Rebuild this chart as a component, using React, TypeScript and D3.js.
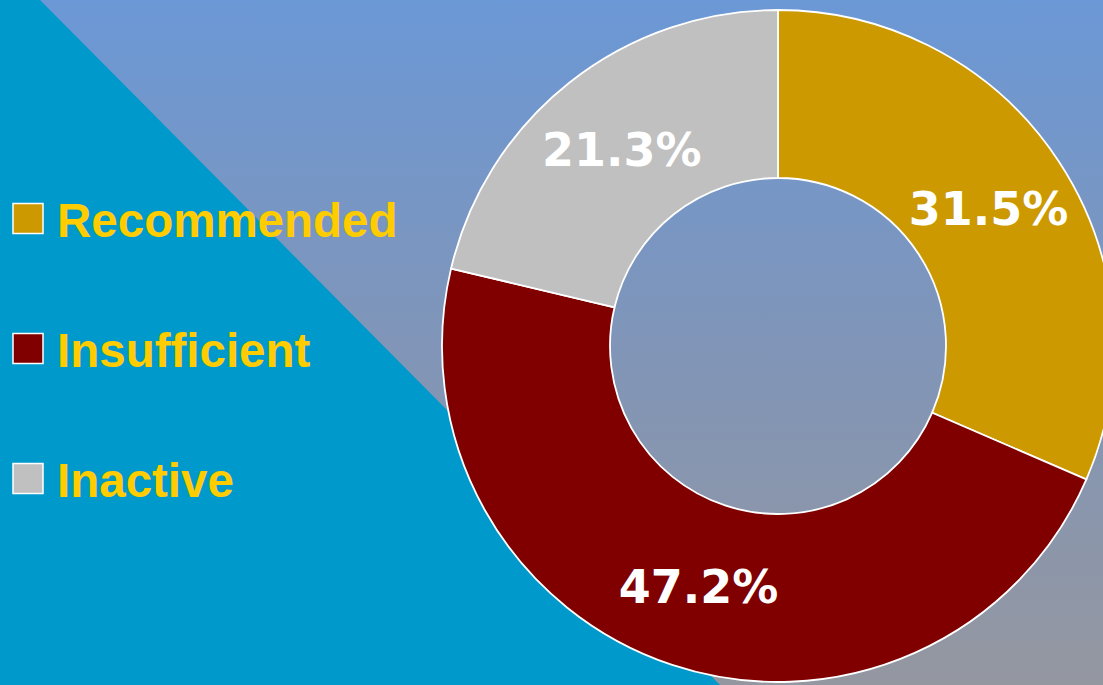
import React from "react";
import * as d3 from "d3";

const categories = ["Recommended", "Insufficient", "Inactive"];
const values = [31.5, 47.2, 21.3];
const labels = ["31.5%", "47.2%", "21.3%"];
const colors = ["#CC9900", "#800000", "#C0C0C0"];

const W = 1103;
const H = 685;

export default function App() {
  const cx = 778;
  const cy = 346;
  const outerR = 336;
  const innerR = 168;

  const pie = d3.pie<number>().sort(null).value((d) => d);
  const arcs = pie(values);
  const arc = d3.arc<d3.PieArcDatum<number>>().innerRadius(innerR).outerRadius(outerR);

  const legendY = d3.scalePoint<string>().domain(categories).range([219, 479]);

  return (
    <svg
      width={W}
      height={H}
      style={{ position: "absolute", left: 0, top: 0, display: "block" }}
    >
      <defs>
        <linearGradient id="bg" x1="0" y1="0" x2="0" y2="1">
          <stop offset="0" stopColor="#6B98D6" />
          <stop offset="0.5" stopColor="#8095B8" />
          <stop offset="1" stopColor="#9497A0" />
        </linearGradient>
      </defs>
      <rect x={0} y={0} width={W} height={H} fill="url(#bg)" />
      <polygon points={`0,0 40,0 720,${H} 0,${H}`} fill="#0099CC" />
      <g transform={`translate(${cx},${cy})`}>
        {arcs.map((a, i) => (
          <path key={i} d={arc(a) || ""} fill={colors[i]} stroke="#FFFFFF" strokeWidth={1.8} />
        ))}
        {arcs.map((a, i) => {
          const [x, y] = arc.centroid(a);
          return (
            <text
              key={"t" + i}
              x={x}
              y={y}
              dy="0.38em"
              textAnchor="middle"
              fill="#FFFFFF"
              fontFamily="'DejaVu Sans', Verdana, sans-serif"
              fontWeight="bold"
              fontSize={46}
            >
              {labels[i]}
            </text>
          );
        })}
      </g>
      {categories.map((c, i) => {
        const y = legendY(c) as number;
        return (
          <g key={c}>
            <rect x={13} y={y - 15.5} width={30} height={30} fill={colors[i]} stroke="#FFFFFF" strokeWidth={1.5} />
            <text
              x={57}
              y={y + 18}
              fill="#FFCC00"
              fontFamily="'Liberation Sans', Arial, sans-serif"
              fontWeight="bold"
              fontSize={47.5}
              style={{ fontVariantLigatures: "none" }}
            >
              {c}
            </text>
          </g>
        );
      })}
    </svg>
  );
}
